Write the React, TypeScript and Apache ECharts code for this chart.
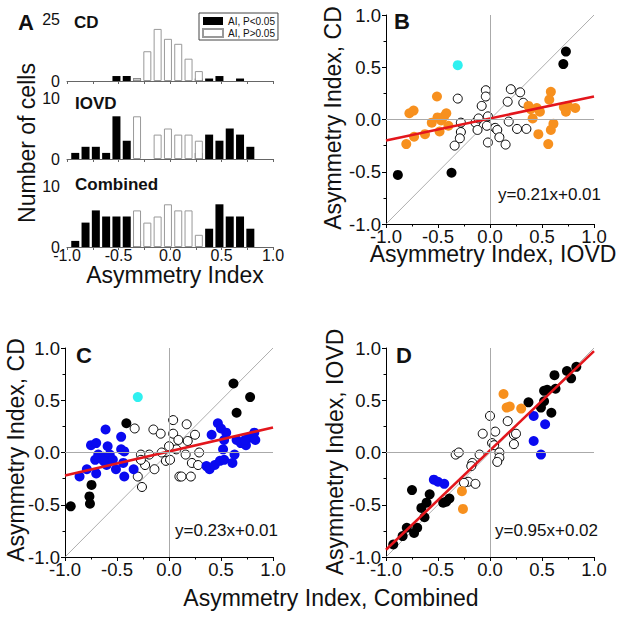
import React, { useEffect, useRef } from "react";
import * as echarts from "echarts";

// ---------- Panel A: histograms ----------
const binCenters = [-0.92, -0.82, -0.72, -0.62, -0.52, -0.42, -0.32, -0.22, -0.12, -0.02, 0.08, 0.18, 0.28, 0.38, 0.48, 0.58, 0.68, 0.78];
const cdSig = [0, 0, 0, 0, 2, 2, 1, 0, 0, 0, 0, 0, 1, 1, 2, 0, 1, 0];
const cdNonSig = [0, 0, 0, 0, 0, 0, 1, 12, 21, 17, 15, 9, 4, 0, 0, 0, 0, 0];
const iovdSig = [1, 2, 2, 1, 7, 3, 0, 0, 0, 0, 0, 0, 1, 4, 3, 5, 4, 2];
const iovdNonSig = [0, 0, 0, 0, 0, 0, 7, 0, 4, 5, 4, 4, 3, 0, 0, 0, 0, 0];
const combSig = [1, 4, 6, 5, 5, 5, 1, 0, 0, 0, 0, 0, 0, 3, 7, 5, 5, 3];
const combNonSig = [0, 0, 0, 0, 0, 0, 6, 4, 5, 7, 6, 6, 2, 0, 0, 0, 0, 0];
const histTitles = ["CD", "IOVD", "Combined"];
const histMax = [25, 10, 10];
const legendNames = ["AI, P<0.05", "AI, P>0.05"];

// ---------- Panel B: CD vs IOVD ----------
const bOpen = [[-0.31, 0.2], [-0.34, -0.25], [-0.28, -0.03], [-0.28, -0.12], [-0.29, -0.18], [-0.14, -0.03], [-0.12, -0.1], [-0.11, 0.01], [-0.08, 0.13], [-0.04, 0.28], [-0.04, 0.22], [-0.02, 0.03], [-0.03, -0.06], [-0.02, -0.22], [0.05, -0.08], [0.07, -0.1], [0.09, -0.17], [0.15, -0.24], [0.17, 0.17], [0.18, -0.02], [0.2, 0.29], [0.26, -0.09], [0.29, 0.26], [0.32, 0.16], [0.35, -0.09]];
const bBlack = [[-0.886, -0.53], [-0.37, -0.51], [0.705, 0.53], [0.73, 0.65]];
const bOrange = [[-0.805, -0.235], [-0.73, -0.165], [-0.775, 0.06], [-0.735, 0.085], [-0.625, -0.14], [-0.51, 0.22], [-0.56, -0.03], [-0.505, 0.02], [-0.485, -0.115], [-0.47, -0.01], [-0.44, 0.03], [-0.42, 0.06], [-0.4, -0.06], [0.37, 0.13], [0.39, 0.1], [0.41, 0.01], [0.45, 0.11], [0.48, 0.075], [0.465, -0.14], [0.56, -0.235], [0.585, 0.265], [0.57, 0.19], [0.585, -0.1], [0.61, -0.04], [0.71, 0.12], [0.73, 0.075], [0.75, 0.13], [0.82, 0.11]];
const bCyan = [[-0.31, 0.52]];

// ---------- Panel C: CD vs Combined ----------
const cOpen = [[-0.33, 0.23], [-0.3, -0.23], [-0.26, -0.33], [-0.27, -0.02], [-0.23, -0.12], [-0.19, -0.02], [-0.15, 0.22], [-0.14, -0.16], [-0.08, 0.18], [-0.07, 0.0], [-0.03, -0.08], [0.01, -0.07], [0.04, 0.31], [0.04, 0.18], [0.09, 0.12], [0.07, 0.03], [0.1, -0.23], [0.12, -0.23], [0.17, 0.27], [0.16, -0.02], [0.18, 0.11], [0.22, -0.1], [0.21, -0.23], [0.25, 0.17], [0.29, 0.0], [0.28, -0.12], [0.0, 0.06], [-0.27, -0.07]];
const cBlack = [[-0.945, -0.515], [-0.76, -0.49], [-0.765, -0.42], [-0.745, -0.31], [-0.41, 0.28], [0.62, 0.66], [0.78, 0.53], [0.65, 0.38]];
const cBlue = [[-0.86, -0.23], [-0.79, -0.16], [-0.7, -0.2], [-0.75, 0.07], [-0.7, 0.09], [-0.61, 0.22], [-0.68, -0.02], [-0.63, -0.04], [-0.59, 0.06], [-0.57, -0.02], [-0.6, -0.12], [-0.54, -0.07], [-0.51, -0.16], [-0.46, 0.15], [-0.46, 0.03], [-0.43, 0.01], [-0.43, -0.23], [-0.44, -0.1], [-0.34, -0.16], [-0.63, -0.08], [-0.71, -0.07], [0.41, 0.17], [0.47, 0.28], [0.5, 0.23], [0.55, 0.19], [0.53, 0.12], [0.52, 0.03], [0.36, -0.13], [0.39, -0.16], [0.44, -0.12], [0.49, -0.08], [0.53, -0.07], [0.61, -0.1], [0.63, -0.02], [0.65, 0.12], [0.69, 0.09], [0.74, 0.07], [0.77, 0.14], [0.82, 0.19], [0.83, 0.12], [0.73, 0.12]];
const cCyan = [[-0.3, 0.53]];

// ---------- Panel D: IOVD vs Combined ----------
const dOpen = [[0.0, 0.35], [0.05, 0.2], [-0.07, 0.18], [0.17, 0.3], [0.23, 0.17], [0.25, 0.18], [0.23, 0.08], [0.02, 0.09], [0.04, 0.07], [0.09, 0.0], [0.09, -0.05], [0.07, -0.09], [-0.1, -0.02], [-0.17, -0.1], [-0.18, -0.13], [-0.21, -0.28], [-0.14, -0.3], [-0.33, -0.02], [-0.3, 0.0], [-0.25, -0.29]];
const dBlack = [[-0.93, -0.88], [-0.84, -0.8], [-0.8, -0.72], [-0.73, -0.77], [-0.7, -0.72], [-0.63, -0.62], [-0.66, -0.53], [-0.61, -0.48], [-0.58, -0.4], [-0.75, -0.36], [-0.45, -0.48], [-0.42, -0.47], [-0.39, -0.44], [0.37, 0.48], [0.49, 0.43], [0.52, 0.49], [0.52, 0.59], [0.59, 0.38], [0.63, 0.61], [0.62, 0.74], [0.74, 0.78], [0.78, 0.71], [0.83, 0.82], [0.55, 0.6]];
const dBlue = [[-0.54, -0.26], [-0.5, -0.28], [-0.44, -0.3], [0.42, 0.35], [0.53, 0.27], [0.42, 0.11], [0.49, -0.02]];
const dOrange = [[0.13, 0.56], [0.19, 0.44], [0.16, 0.43], [0.3, 0.42], [-0.27, -0.37], [-0.26, -0.54]];

// ---------- Fits ----------
const fitSlope = [0.21, 0.23, 0.95];
const fitIntercept = [0.01, 0.01, 0.02];
const fitLabels = ["y=0.21x+0.01", "y=0.23x+0.01", "y=0.95x+0.02"];

const FONT = "'Liberation Sans', Arial, Helvetica, sans-serif";
const ORANGE = "#f7901e";
const BLUE = "#0a0af0";
const CYAN = "#2ff0f0";
const RED = "#e3161c";

export default function App() {
  const ref = useRef<HTMLDivElement>(null);

  useEffect(() => {
    if (!ref.current) return;
    const chart = echarts.init(ref.current, null, { renderer: "svg" });

    const histGrids = [
      { left: 67, top: 19, width: 206, height: 62 },
      { left: 67, top: 98, width: 206, height: 61 },
      { left: 67, top: 186, width: 206, height: 61 },
    ];
    const scatGrids = [
      { left: 386, top: 15, width: 208, height: 209 },
      { left: 65, top: 348, width: 208, height: 209 },
      { left: 386, top: 348, width: 208, height: 209 },
    ];

    const fmt = (v: number) => v.toFixed(1);

    const xAxes: any[] = [];
    const yAxes: any[] = [];
    const series: any[] = [];

    const sigSets = [cdSig, iovdSig, combSig];
    const nonSigSets = [cdNonSig, iovdNonSig, combNonSig];

    histGrids.forEach((g, i) => {
      xAxes.push({
        type: "value",
        gridIndex: i,
        min: -1,
        max: 1,
        interval: 0.5,
        axisLine: { show: true, onZero: false, lineStyle: { color: "#666", width: 1 } },
        axisTick: { show: true, length: 3, lineStyle: { color: "#666" } },
        minorTick: { show: true, splitNumber: 2, length: 3, lineStyle: { color: "#666" } },
        splitLine: { show: false },
        axisLabel: {
          show: i === 2,
          fontSize: 16,
          color: "#111",
          fontFamily: FONT,
          margin: 0,
          formatter: fmt,
        },
      });
      yAxes.push({
        type: "value",
        gridIndex: i,
        min: 0,
        max: histMax[i],
        interval: histMax[i],
        axisLine: { show: false },
        axisTick: { show: false },
        splitLine: { show: false },
        axisLabel: { fontSize: 16, color: "#111", fontFamily: FONT, margin: 7 },
      });
      series.push({
        type: "bar",
        name: legendNames[0],
        xAxisIndex: i,
        yAxisIndex: i,
        stack: "h" + i,
        barWidth: 8,
        itemStyle: { color: "#000" },
        data: binCenters.map((c, k) => [c, sigSets[i][k]]).filter((d) => d[1] > 0),
      });
      series.push({
        type: "bar",
        name: legendNames[1],
        xAxisIndex: i,
        yAxisIndex: i,
        stack: "h" + i,
        barWidth: 8,
        itemStyle: { color: "#fff", borderColor: "#999", borderWidth: 1 },
        data: binCenters.map((c, k) => [c, nonSigSets[i][k]]).filter((d) => d[1] > 0),
      });
    });

    const groups = [
      [
        { data: bOpen, open: true },
        { data: bOrange, color: ORANGE },
        { data: bBlack, color: "#000" },
        { data: bCyan, color: CYAN },
      ],
      [
        { data: cOpen, open: true },
        { data: cBlue, color: BLUE },
        { data: cBlack, color: "#000" },
        { data: cCyan, color: CYAN },
      ],
      [
        { data: dOpen, open: true },
        { data: dBlack, color: "#000" },
        { data: dBlue, color: BLUE },
        { data: dOrange, color: ORANGE },
      ],
    ];

    scatGrids.forEach((g, p) => {
      const idx = 3 + p;
      const axisCommon = {
        type: "value",
        gridIndex: idx,
        min: -1,
        max: 1,
        interval: 0.5,
        axisLine: { show: true, onZero: false, lineStyle: { color: "#000", width: 1 } },
        axisTick: { show: true, length: 4, lineStyle: { color: "#000" } },
        minorTick: { show: true, splitNumber: 2, length: 2.5, lineStyle: { color: "#000" } },
        splitLine: { show: false },
      };
      xAxes.push({
        ...axisCommon,
        axisLabel: { fontSize: 18.5, color: "#111", fontFamily: FONT, margin: 3, formatter: fmt },
      });
      yAxes.push({
        ...axisCommon,
        axisLabel: { fontSize: 18.5, color: "#111", fontFamily: FONT, margin: 5, formatter: fmt },
      });
      series.push({
        type: "line",
        xAxisIndex: idx,
        yAxisIndex: idx,
        data: [[-1, -1], [1, 1]],
        symbol: "none",
        silent: true,
        z: 1,
        lineStyle: { color: "#999", width: 0.8 },
        markLine: {
          silent: true,
          symbol: ["none", "none"],
          label: { show: false },
          lineStyle: { color: "#aaa", width: 1, type: "solid" },
          data: [{ xAxis: 0 }, { yAxis: 0 }],
        },
      });
      groups[p].forEach((s: any) => {
        series.push({
          type: "scatter",
          xAxisIndex: idx,
          yAxisIndex: idx,
          data: s.data,
          symbol: "circle",
          symbolSize: s.open ? 9 : 10,
          z: 2,
          itemStyle: s.open
            ? { color: "#fff", borderColor: "#000", borderWidth: 1, opacity: 1 }
            : { color: s.color, opacity: 1 },
        });
      });
      series.push({
        type: "line",
        xAxisIndex: idx,
        yAxisIndex: idx,
        data: [
          [-1, fitIntercept[p] - fitSlope[p]],
          [1, fitIntercept[p] + fitSlope[p]],
        ],
        symbol: "none",
        silent: true,
        z: 4,
        lineStyle: { color: RED, width: 2.6 },
      });
    });

    const txt = (text: string, x: number, y: number, size: number, opts: any = {}) => ({
      type: "text",
      x,
      y,
      rotation: opts.rotation || 0,
      silent: true,
      style: {
        text,
        fontSize: size,
        fontFamily: FONT,
        fontWeight: opts.bold ? "bold" : "normal",
        fill: "#111",
        textAlign: opts.align || "left",
        textVerticalAlign: "middle",
      },
    });

    const graphics = [
      txt("A", 18, 22, 22, { bold: true }),
      txt("B", 394, 21, 22, { bold: true }),
      txt("C", 76, 355, 22, { bold: true }),
      txt("D", 396, 355, 22, { bold: true }),
      txt(histTitles[0], 74, 22, 17, { bold: true }),
      txt(histTitles[1], 75, 103, 17, { bold: true }),
      txt(histTitles[2], 75, 184, 17, { bold: true }),
      txt("Number of cells", 27, 143, 23, { rotation: Math.PI / 2, align: "center" }),
      txt("Asymmetry Index", 175, 275, 23, { align: "center" }),
      txt("Asymmetry Index, CD", 333, 118, 23, { rotation: Math.PI / 2, align: "center" }),
      txt("Asymmetry Index, IOVD", 493, 254, 23, { align: "center" }),
      txt("Asymmetry Index, CD", 16, 450, 23, { rotation: Math.PI / 2, align: "center" }),
      txt("Asymmetry Index, IOVD", 335, 452, 23, { rotation: Math.PI / 2, align: "center" }),
      txt("Asymmetry Index, Combined", 331, 598, 23, { align: "center" }),
      txt(fitLabels[0], 498, 194, 17),
      txt(fitLabels[1], 175, 530, 17),
      txt(fitLabels[2], 495, 530, 17),
    ];

    chart.setOption({
      animation: false,
      backgroundColor: "#fff",
      grid: [...histGrids, ...scatGrids].map((g) => ({ ...g, containLabel: false })),
      xAxis: xAxes,
      yAxis: yAxes,
      legend: {
        data: legendNames,
        orient: "vertical",
        left: 199,
        top: 13,
        padding: [3, 3, 2, 3],
        itemGap: 2,
        itemWidth: 20,
        itemHeight: 8,
        icon: "rect",
        borderColor: "#444",
        borderWidth: 1,
        selectedMode: false,
        textStyle: { fontSize: 10, fontFamily: FONT, color: "#111" },
      },
      series,
      graphic: graphics,
    });

    return () => {
      chart.dispose();
    };
  }, []);

  return (
    <div
      ref={ref}
      style={{ position: "absolute", left: 0, top: 0, width: 640, height: 619, background: "#fff" }}
    />
  );
}
